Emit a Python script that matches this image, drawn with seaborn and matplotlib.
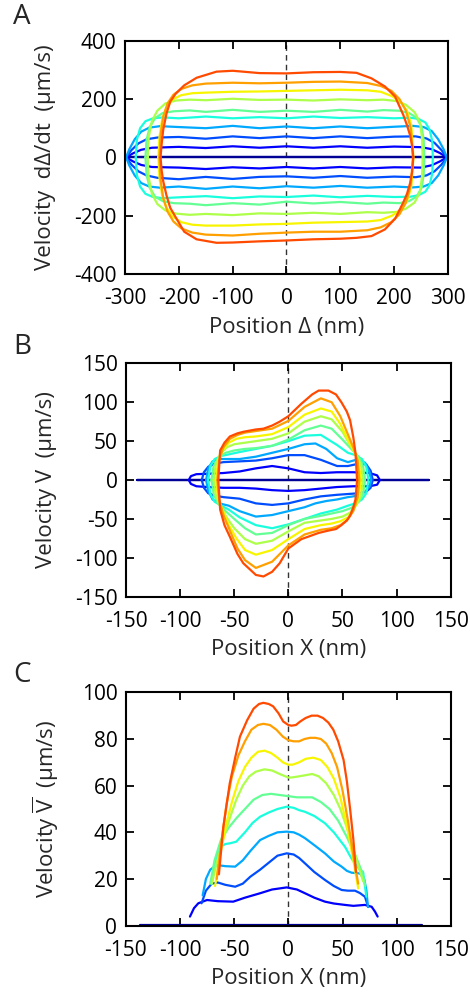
import numpy as np
import matplotlib
matplotlib.use("Agg")
from matplotlib import pyplot as plt
import seaborn as sns

# ---- Panel A: dDelta/dt vs Delta (closed loops, x nodes / upper / lower branch) ----
a_x = [
    [-300, 300],
    [-298, -285, -270, -250, -200, -150, -100, -50, 0, 50, 100, 150, 200, 250, 270, 285, 298],
    [-298, -288, -275, -260, -240, -200, -150, -100, -50, 0, 50, 100, 150, 200, 240, 260, 275, 288, 298],
    [-298, -292, -282, -270, -255, -235, -200, -150, -100, -50, 0, 50, 100, 150, 200, 235, 255, 270, 282, 292, 298],
    [-280, -278, -272, -262, -248, -230, -200, -150, -100, -50, 0, 50, 100, 150, 200, 230, 245, 258, 266, 271, 272],
    [-262, -260, -254, -244, -230, -210, -180, -150, -100, -50, 0, 50, 100, 150, 180, 210, 228, 242, 251, 255, 256],
    [-258, -256, -250, -240, -225, -205, -180, -150, -100, -50, 0, 50, 100, 150, 180, 205, 222, 238, 248, 252, 253],
    [-238, -236, -231, -223, -212, -196, -175, -150, -100, -50, 0, 50, 100, 150, 175, 196, 212, 224, 232, 236],
    [-236, -234, -229, -221, -210, -195, -175, -150, -100, -50, 0, 50, 100, 150, 175, 195, 210, 222, 231, 235],
    [-234, -232, -229, -223, -216, -206, -190, -167, -130, -100, -50, 0, 50, 100, 130, 158, 183, 202, 217, 224, 229.5, 233.5, 235.6],
]
a_top = [
    [0, 0],
    [0, 14, 26, 33, 36, 32, 38, 33, 38, 33, 38, 33, 37, 35, 28, 15, 0],
    [0, 25, 48, 62, 68, 70, 64, 72, 66, 72, 66, 72, 66, 71, 72, 65, 50, 25, 0],
    [0, 28, 62, 88, 102, 107, 104, 100, 108, 100, 106, 100, 106, 100, 105, 108, 104, 90, 62, 28, 0],
    [0, 60, 100, 124, 134, 137, 134, 140, 134, 138, 134, 140, 135, 138, 134, 136, 132, 120, 95, 55, 0],
    [0, 60, 105, 135, 152, 158, 161, 156, 163, 156, 160, 156, 163, 157, 162, 160, 152, 135, 105, 60, 0],
    [0, 70, 125, 160, 185, 195, 198, 196, 201, 197, 198, 195, 199, 196, 198, 193, 180, 155, 120, 65, 0],
    [0, 70, 130, 170, 198, 213, 220, 222, 225, 226, 228, 230, 232, 230, 225, 210, 190, 160, 110, 0],
    [0, 75, 140, 185, 215, 235, 247, 253, 256, 254, 256, 259, 260, 255, 245, 228, 200, 160, 100, 0],
    [0, 45, 95, 150, 191, 218, 247, 273, 294, 297, 289, 288, 292, 293, 290, 271, 243, 208, 146, 110, 77, 40, 0],
]
a_bot = [
    [0, 0],
    [0, -14, -26, -33, -35, -40, -34, -38, -33, -38, -33, -38, -34, -35, -27, -14, 0],
    [0, -25, -48, -62, -70, -75, -67, -74, -67, -65, -70, -64, -70, -66, -68, -62, -48, -25, 0],
    [0, -28, -62, -88, -100, -104, -100, -108, -100, -106, -99, -104, -98, -104, -100, -103, -100, -88, -62, -28, 0],
    [0, -60, -100, -125, -136, -140, -137, -133, -140, -134, -136, -131, -137, -132, -136, -135, -130, -118, -95, -55, 0],
    [0, -60, -105, -135, -150, -157, -159, -164, -157, -162, -152, -158, -153, -159, -155, -157, -150, -134, -105, -60, 0],
    [0, -70, -125, -160, -182, -193, -197, -194, -198, -192, -194, -190, -194, -188, -190, -187, -176, -155, -120, -65, 0],
    [0, -70, -130, -172, -202, -222, -231, -234, -234, -230, -228, -224, -222, -220, -215, -200, -180, -150, -100, 0],
    [0, -75, -140, -186, -220, -244, -258, -265, -268, -262, -258, -255, -255, -250, -240, -222, -195, -155, -95, 0],
    [0, -45, -82, -130, -173, -205, -255, -281, -293, -292, -288, -285, -281, -279, -276, -270, -247, -210, -155, -125, -90, -50, 0],
]

# ---- Panel B: V vs X (closed loops) ----
b_x = [
    [-140, 130],
    [-92, -90, -85, -75, -60, -45, -30, -15, 0, 15, 30, 45, 60, 75, 82, 84.5],
    [-80, -78, -74, -68, -60, -45, -30, -15, 0, 15, 30, 45, 55, 65, 72, 76, 78],
    [-76, -74, -70, -64, -55, -45, -30, -15, 0, 15, 25, 35, 45, 55, 65, 71, 75, 76.5],
    [-74, -72, -68, -62, -55, -45, -30, -15, 0, 15, 30, 45, 55, 62, 68, 72, 74],
    [-71, -69, -65, -58, -50, -40, -30, -15, 0, 15, 30, 40, 50, 58, 65, 69, 71],
    [-69, -67, -63, -57, -50, -40, -30, -15, 0, 15, 30, 40, 50, 57, 63, 67, 69],
    [-67, -65, -61, -55, -48, -40, -30, -15, 0, 15, 30, 40, 48, 55, 61, 65, 67],
    [-65.5, -64, -60, -54, -47, -40, -30, -15, 0, 15, 30, 40, 48, 54, 60, 64, 65.5],
    [-64.7, -63, -59, -54, -47, -41.6, -30, -23, -15, -8, 0, 12, 22, 28, 37, 44, 49, 54, 57, 60, 62, 63.5],
]
b_top = [
    [0, 0],
    [0, 5, 7.5, 8, 9, 11, 15, 18, 15, 10, 9, 10, 10, 9, 6, 0],
    [0, 10, 17, 21, 23, 24, 25, 28, 32, 32, 26, 18, 18, 21, 20, 12, 0],
    [0, 15, 24, 27, 27, 27, 30, 35, 40, 46, 47, 40, 28, 23, 27, 22, 10, 0],
    [0, 18, 27, 31, 33, 36, 40, 44, 50, 57, 58, 45, 35, 32, 27, 17, 0],
    [0, 18, 28, 35, 38, 40, 41, 44, 52, 64, 70, 66, 52, 40, 30, 18, 0],
    [0, 20, 33, 42, 46, 48, 50, 53, 60, 75, 82, 78, 62, 45, 32, 20, 0],
    [0, 22, 38, 48, 53, 55, 56, 59, 68, 84, 92, 88, 72, 52, 36, 22, 0],
    [0, 25, 42, 53, 58, 61, 63, 66, 76, 94, 105, 100, 82, 62, 42, 25, 0],
    [0, 38, 48, 56, 60, 62, 65, 66, 70, 75, 82, 98, 110, 115, 115, 110, 100, 88, 77, 55, 35, 0],
]
b_bot = [
    [0, 0],
    [0, -5, -8, -9, -10, -10, -11, -13, -14, -13, -11, -9, -8, -8, -6, 0],
    [0, -10, -17, -20, -22, -24, -30, -32, -30, -25, -21, -19, -18, -17, -15, -10, 0],
    [0, -14, -25, -30, -33, -40, -47, -45, -40, -35, -30, -27, -25, -22, -20, -15, -8, 0],
    [0, -18, -28, -33, -38, -48, -58, -62, -57, -50, -43, -38, -33, -30, -25, -17, 0],
    [0, -18, -30, -40, -50, -62, -70, -68, -58, -50, -46, -43, -40, -36, -28, -18, 0],
    [0, -20, -33, -48, -62, -76, -82, -78, -66, -55, -52, -50, -47, -42, -32, -20, 0],
    [0, -22, -38, -58, -75, -90, -96, -90, -76, -63, -58, -56, -53, -48, -36, -22, 0],
    [0, -25, -45, -65, -88, -103, -113, -105, -84, -70, -64, -62, -58, -52, -40, -22, 0],
    [0, -38, -58, -73, -95, -107, -122, -124, -118, -107, -88, -76, -71, -68, -65, -63, -58, -52, -46, -35, -25, 0],
]

# ---- Panel C: mean velocity vs X ----
c_x = [
    [-137, 123],
    [-90.7, -87, -83, -75, -65, -50.8, -40, -26, -15, -1.5, 8, 15.4, 24, 33.8, 42, 52.3, 60, 70.7, 76.9, 80, 82.4],
    [-80, -76, -70.7, -65, -58, -49, -42, -35, -26, -18, -10, -1.5, 5, 10, 15.4, 24, 33.8, 42, 49.2, 55, 61.5, 66, 70.7, 73.7],
    [-79, -76, -72, -66, -58, -49, -42, -35, -26, -18, -10, -1.5, 5, 10, 15.4, 24, 33.8, 42, 49.2, 54, 58.4, 66, 70, 72, 73.5],
    [-70.7, -67, -62, -58, -53.8, -48, -40, -33, -26, -18, -10, -1.5, 5, 10, 15.4, 24, 33.8, 42, 52.3, 58, 61.5, 66, 69, 72],
    [-72, -68, -62, -55, -48, -40, -32, -24, -16, -8, 0, 8, 16, 22, 30, 38, 46, 54, 62, 68, 71],
    [-70.5, -66, -60, -54, -48, -42, -36, -30, -22, -15, -8, 0, 3, 10, 16, 22, 28, 35, 42, 48, 54, 60, 65, 69],
    [-67.5, -63, -58, -52, -46, -40, -34, -28, -22, -16, -10, -5, 0, 4, 10, 16, 23, 30, 36, 42, 48, 54, 60, 64.5],
    [-66, -62, -57, -52, -46, -40, -34, -28, -23, -17, -11, -5, 0, 5, 10, 15, 20, 25, 30, 35, 40, 45, 50, 55, 60, 64.5],
    [-64, -60, -54, -49, -44.6, -38, -32, -27, -23, -18, -14, -9, -4.7, 0, 3, 7, 11, 16, 21.5, 27, 32, 37, 41.5, 46, 51, 54, 57, 60, 62.4],
]
c_v = [
    [0.4, 0.4],
    [3.9, 7.5, 9.6, 11, 10.5, 10.3, 12, 13.9, 15.5, 16.4, 15.5, 13.9, 12, 10.3, 9.5, 8.9, 8.5, 8.9, 8.1, 6, 3.9],
    [9.6, 15, 18, 18.5, 17.5, 16.7, 18, 21, 24, 27, 30, 31, 30.5, 29, 26.7, 23, 19.6, 17, 15.3, 15, 15, 14, 12.4, 8],
    [13, 20, 24, 26, 25.5, 25.3, 28, 32, 36.7, 38.5, 40, 40.3, 40, 39, 37.5, 34.5, 31, 27.5, 25.3, 23.5, 22.7, 22.4, 20, 15.3, 8],
    [18, 28, 34, 35, 35.3, 36, 40, 44, 46.7, 48.5, 50, 51, 50.5, 49.5, 48.8, 47, 43.9, 40, 33.8, 29, 26.7, 24, 23, 12.4],
    [18, 28, 37, 42, 46, 50, 54, 56, 56.5, 56, 55.5, 55, 55, 55, 53, 50, 45, 38, 30, 23, 17],
    [18, 27, 37, 46, 54, 60, 64, 66, 67, 66.5, 65, 63.5, 63.5, 64, 64.5, 65, 64, 61, 56, 50, 42, 33, 25, 19],
    [17, 30, 42, 53, 62, 68, 72, 74.5, 75, 74, 72, 70, 69, 69, 70, 71.5, 72, 71, 68, 63, 55, 43, 28, 16],
    [20, 35, 52, 64, 73, 79, 84, 86, 86.5, 86, 84, 81, 79.5, 79, 79, 80, 80.5, 80.5, 80, 78, 74, 68, 58, 45, 30, 18],
    [22, 42, 61, 72, 81, 88, 93, 95, 95.5, 95, 94, 91, 87.5, 86, 85.7, 86, 87.5, 89, 90, 90, 89, 87, 84, 79, 71, 62, 50, 37, 23],
]

sns.set_theme(style="ticks")
plt.rcParams["font.family"] = ["Open Sans", "DejaVu Sans"]
plt.rcParams["mathtext.fontset"] = "custom"
plt.rcParams["mathtext.rm"] = "Open Sans"
plt.rcParams["axes.unicode_minus"] = False

colores = plt.get_cmap("jet")(np.linspace(0.02, 0.83, 10))

fig = plt.figure(figsize=(4.7, 9.96), dpi=100)
ax_a = fig.add_axes([0.266, 0.7249, 0.687, 0.2342])
ax_b = fig.add_axes([0.268, 0.4009, 0.691, 0.2343])
ax_c = fig.add_axes([0.2674, 0.0706, 0.692, 0.2343])


def dibujar_lazos(ax, xs, tops, bots):
    for i in range(len(xs)):
        x = xs[i] + xs[i][::-1]
        y = tops[i] + bots[i][::-1]
        sns.lineplot(x=x, y=y, sort=False, estimator=None, color=colores[i],
                     lw=1.6, ax=ax)


dibujar_lazos(ax_a, a_x, a_top, a_bot)
dibujar_lazos(ax_b, b_x, b_top, b_bot)
for i in range(len(c_x)):
    sns.lineplot(x=c_x[i], y=c_v[i], sort=False, estimator=None, color=colores[i],
                 lw=1.6, ax=ax_c)


def formato(ax, xlim, ylim, xticks, yticks, xlabel, ylabel):
    ax.axvline(0, color="#333333", lw=1.0, ls=(0, (4, 3)), zorder=0)
    ax.set_xlim(xlim)
    ax.set_ylim(ylim)
    ax.set_xticks(xticks)
    ax.set_yticks(yticks)
    ax.tick_params(direction="in", top=True, right=True, length=6, width=1.3,
                   labelsize=15, colors="black")
    ax.tick_params(axis="x", pad=10)
    ax.tick_params(axis="y", pad=6)
    ax.set_xlabel(xlabel, fontsize=16, va="center")
    ax.set_ylabel(ylabel, fontsize=16, va="center")
    ax.xaxis.set_label_coords(0.5, -0.228)
    ax.yaxis.set_label_coords(-0.245, 0.5)
    for s in ax.spines.values():
        s.set_color("black")
        s.set_linewidth(1.5)


formato(ax_a, (-300, 300), (-400, 400), range(-300, 301, 100), range(-400, 401, 200),
        "Position Δ (nm)", "Velocity  dΔ/dt  (μm/s)")
formato(ax_b, (-150, 150), (-150, 150), range(-150, 151, 50), range(-150, 151, 50),
        "Position X (nm)", "Velocity V  (μm/s)")
formato(ax_c, (-150, 150), (0, 100), range(-150, 151, 50), range(0, 101, 20),
        "Position X (nm)", r"Velocity $\overline{\mathrm{V}}$  (μm/s)")

fig.text(22 / 470, 1 - 17 / 996, "A", fontsize=20, ha="center", va="center")
fig.text(22 / 470, 1 - 347 / 996, "B", fontsize=20, ha="center", va="center")
fig.text(22 / 470, 1 - 675 / 996, "C", fontsize=20, ha="center", va="center")

fig.savefig("out.png", dpi=100)
